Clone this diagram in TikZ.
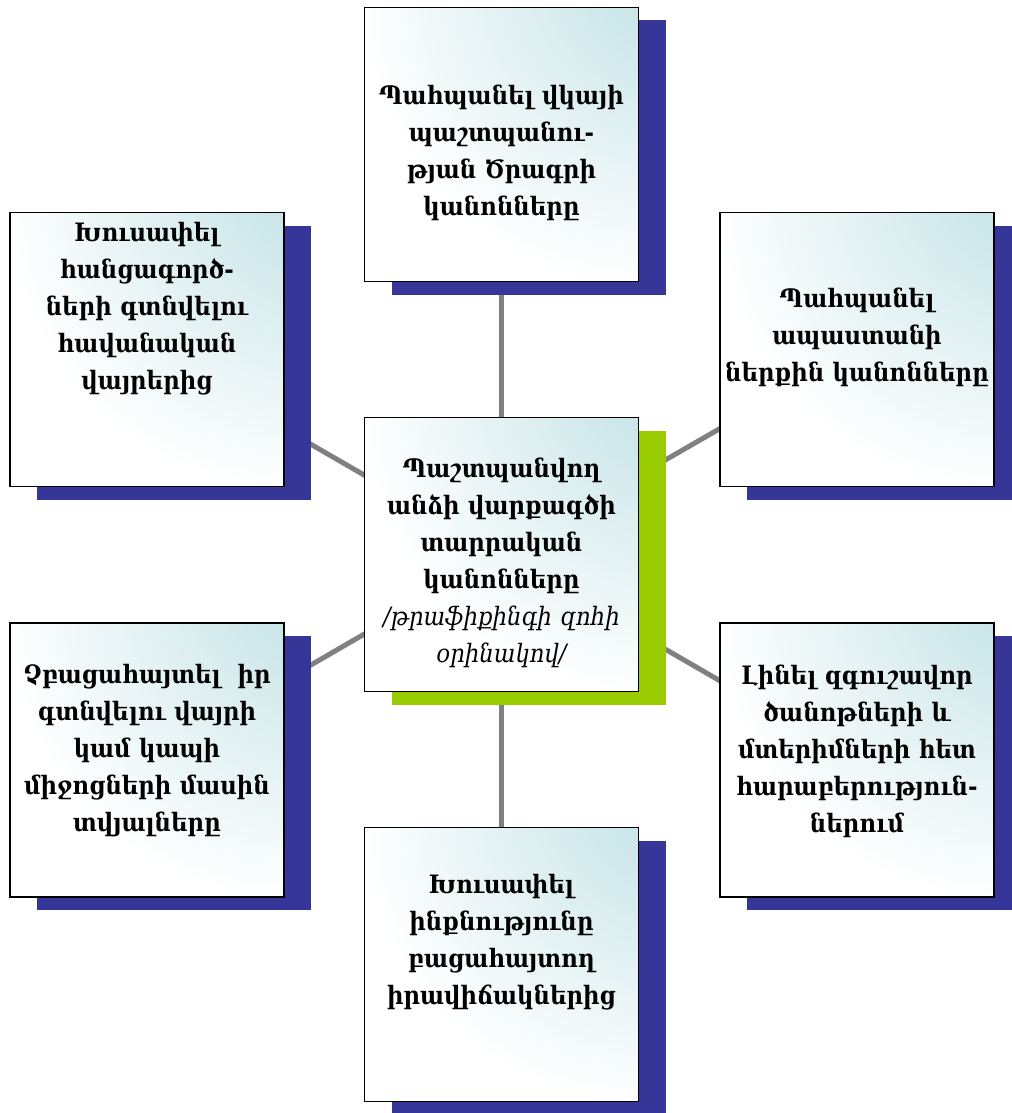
\documentclass[tikz,border=0pt]{standalone}
\usepackage{fontspec}
\setmainfont{DejaVu Serif Condensed}
\usetikzlibrary{shadows,backgrounds}
\definecolor{shadowblue}{RGB}{54,54,152}
\definecolor{centergreen}{RGB}{153,204,0}
\definecolor{boxteal}{RGB}{176,217,222}
\definecolor{linkgray}{RGB}{128,128,128}
\colorlet{boxmid}{boxteal!45!white}
\pgfdeclareradialshading{cornerglow}{\pgfpoint{50bp}{50bp}}{color(0bp)=(boxteal); color(8bp)=(boxteal); color(30bp)=(boxmid); color(50bp)=(white); color(100bp)=(white)}
\begin{document}
\begin{tikzpicture}[x=0.75pt,y=-0.75pt,
  box/.style={draw=black, line width=1.3pt, rectangle,
    minimum width=205.5pt, minimum height=205.5pt, inner sep=0pt,
    shading=cornerglow},
  txt/.style={text width=215pt, align=center, inner sep=0pt,
    font=\bfseries\fontsize{19}{27.75}\selectfont},
  blueshadow/.style={general shadow={fill=shadowblue, shadow xshift=20.25pt, shadow yshift=-9.75pt}},
  greenshadow/.style={general shadow={fill=centergreen, shadow xshift=20.25pt, shadow yshift=-9.75pt}},
  link/.style={draw=linkgray, line width=3.75pt}]
\useasboundingbox (0,0) rectangle (1011,1113);
\node[box, blueshadow] (top) at (501.5,144.5) {};
\node[box, blueshadow] (tl) at (147,349.5) {};
\node[box, blueshadow] (tr) at (857,349.5) {};
\node[box, greenshadow] (c) at (501.5,554.5) {};
\node[box, blueshadow] (bl) at (147,760) {};
\node[box, blueshadow] (br) at (857,760) {};
\node[box, blueshadow] (b) at (501.5,964.5) {};
\node[txt] (top-t) at (501.5,153) {Պահպանել վկայի\\ պաշտպանու-\\ թյան Ծրագրի\\ կանոնները};
\node[txt] (tl-t) at (147,309) {Խուսափել\\ հանցագործ-\\ ների գտնվելու\\ հավանական\\ վայրերից};
\node[txt] (tr-t) at (857,337) {Պահպանել\\ ապաստանի\\ ներքին կանոնները};
\node[txt] (c-t) at (501.5,563) {Պաշտպանվող\\ անձի վարքագծի\\ տարրական\\ կանոնները\\ {\mdseries\itshape /թրաֆիքինգի զոհի\\ օրինակով/}};
\node[txt] (bl-t) at (147,751) {Չբացահայտել~ իր\\ գտնվելու վայրի\\ կամ կապի\\ միջոցների մասին\\ տվյալները};
\node[txt] (br-t) at (857,751) {Լինել զգուշավոր\\ ծանոթների և\\ մտերիմների հետ\\ հարաբերություն-\\ ներում};
\node[txt] (b-t) at (501.5,942.5) {Խուսափել\\ ինքնությունը\\ բացահայտող\\ իրավիճակներից};
\begin{pgfonlayer}{background}
\foreach \n in {top,tl,tr,bl,br,b} \draw[link] (c.center) -- (\n.center);
\end{pgfonlayer}
\end{tikzpicture}
\end{document}
